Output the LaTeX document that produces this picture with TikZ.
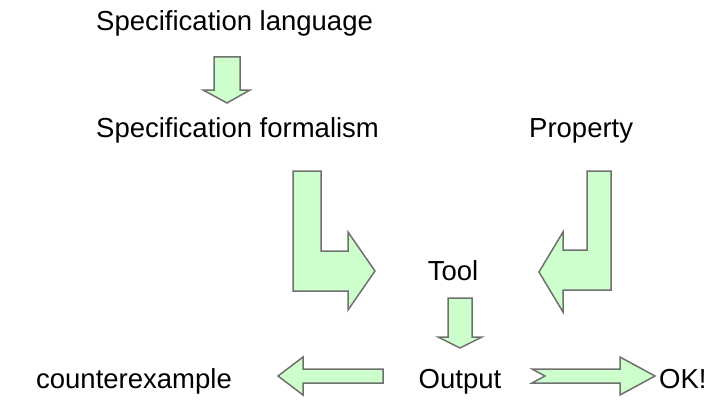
\documentclass[tikz,border=0pt]{standalone}
\usepackage{fontspec}
\setmainfont{Liberation Sans}
\definecolor{arrowfill}{HTML}{CCFFCC}
\definecolor{arrowedge}{HTML}{707070}

\begin{document}
\begin{tikzpicture}[x=1pt, y=-1pt, font=\fontsize{27.5}{33}\selectfont,
    txt/.style={inner sep=0pt},
    blockarrow/.style={fill=arrowfill, draw=arrowedge, line width=1.5pt, line join=miter}]
    \useasboundingbox (0,0) rectangle (722,404);

    % --- Texts ---
    \node[txt, anchor=base west] (lang) at (96,31) {Specification language};
    \node[txt, anchor=base west] (form) at (96,137) {Specification formalism};
    \node[txt, anchor=base west] (prop) at (529,137) {Property};
    \node[txt, anchor=base] (tool) at (453,280) {Tool};
    \node[txt, anchor=base] (out) at (460,388) {Output};
    \node[txt, anchor=base] (cex) at (134,388) {counterexample};
    \node[txt, anchor=base west] (ok) at (659,388) {OK!};

    % language -> formalism
    \draw[blockarrow] (214,57) -- (240,57) -- (240,90) -- (250,90) -- (227,103)
        -- (203,90) -- (214,90) -- cycle;

    % formalism -> tool (L shaped)
    \draw[blockarrow] (293,171) -- (321,171) -- (321,251) -- (348,251) -- (348,232)
        -- (375,271) -- (348,310) -- (348,291) -- (293,291) -- cycle;

    % property -> tool (mirrored L)
    \draw[blockarrow] (587,171) -- (611,171) -- (611,290) -- (563,290) -- (563,312)
        -- (539,272) -- (563,232) -- (563,250) -- (587,250) -- cycle;

    % tool -> output
    \draw[blockarrow] (448,298) -- (472,298) -- (472,337) -- (482,337) -- (460,348)
        -- (438,337) -- (448,337) -- cycle;

    % output -> counterexample
    \draw[blockarrow] (383,369) -- (383,383) -- (303,383) -- (303,395) -- (278,376)
        -- (303,357) -- (303,369) -- cycle;

    % output -> OK! (notched tail)
    \draw[blockarrow] (532,369) -- (620,369) -- (620,357) -- (655,376) -- (620,395)
        -- (620,383) -- (532,383) -- (545,376) -- cycle;
\end{tikzpicture}
\end{document}
